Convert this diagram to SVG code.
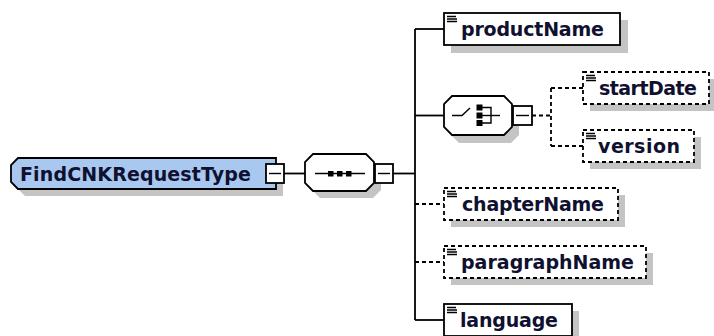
<svg xmlns="http://www.w3.org/2000/svg" width="714" height="336" viewBox="0 0 714 336">
<style>
.ln{stroke:#000;stroke-width:1.8;fill:none}
.dash{stroke-dasharray:4 3}
.box{fill:#fff;stroke:#000;stroke-width:1.8}
.dbox{fill:#fff;stroke:#000;stroke-width:1.8;stroke-dasharray:4 3}
.sh{fill:#c4c4c4}
.t{font-family:"DejaVu Sans","Liberation Sans",sans-serif;font-weight:bold;font-size:19px;fill:#101030}
.ic{stroke:#000;stroke-width:1.4}
.blk{fill:#000}
</style>
<rect width="714" height="336" fill="#fff"/>

<g id="connectors">
  <line class="ln" x1="284" y1="173.5" x2="305" y2="173.5"/>
  <line class="ln" x1="393" y1="173.5" x2="415" y2="173.5"/>
  <line class="ln" x1="415" y1="29" x2="415" y2="320"/>
  <line class="ln" x1="415" y1="29" x2="444" y2="29"/>
  <line class="ln" x1="415" y1="115.5" x2="444" y2="115.5"/>
  <line class="ln dash" x1="415" y1="204" x2="444" y2="204"/>
  <line class="ln dash" x1="415" y1="262" x2="444" y2="262"/>
  <line class="ln" x1="415" y1="320" x2="444" y2="320"/>
  <line class="ln dash" x1="532" y1="115.5" x2="551" y2="115.5"/>
  <line class="ln dash" x1="551" y1="88" x2="551" y2="146"/>
  <line class="ln dash" x1="551" y1="88" x2="583" y2="88"/>
  <line class="ln dash" x1="551" y1="146" x2="583" y2="146"/>
</g>

<g id="root">
  <path class="sh" d="M25,165 H283 V196 H25 L18,189 V172 Z"/>
  <path d="M18,158 H276 V189 H18 L11,182 V165 Z" fill="#a8c8f0" stroke="#000" stroke-width="1.8"/>
  <text class="t" x="20" y="180.5" textLength="231">FindCNKRequestType</text>
  <rect class="box" x="266" y="164" width="18" height="19"/>
  <line class="ic" x1="269" y1="173.5" x2="281" y2="173.5"/>
</g>

<g id="sequence">
  <path class="sh" d="M320,161 H373 L381,169 V190 L373,198 H320 L312,190 V169 Z"/>
  <path class="box" d="M313,154 H366 L374,162 V183 L366,191 H313 L305,183 V162 Z"/>
  <line class="ic" x1="315" y1="173.5" x2="365" y2="173.5"/>
  <rect class="blk" x="328" y="171" width="5.5" height="5.5"/>
  <rect class="blk" x="337" y="171" width="5.5" height="5.5"/>
  <rect class="blk" x="346" y="171" width="5.5" height="5.5"/>
  <rect class="box" x="375" y="164" width="18" height="19"/>
  <line class="ic" x1="378" y1="173.5" x2="390" y2="173.5"/>
</g>

<g id="choice">
  <path class="sh" d="M459,103 H511 L519,111 V135 L511,143 H459 L451,135 V111 Z"/>
  <path class="box" d="M452,96 H504 L512,104 V127 L504,135 H452 L444,127 V104 Z"/>
  <polyline class="ic" fill="none" points="452,115.5 462,115.5 470,108"/>
  <rect class="blk" x="476.5" y="104.5" width="6" height="6"/>
  <rect class="blk" x="476.5" y="112.5" width="6" height="6"/>
  <rect class="blk" x="476.5" y="120" width="6" height="6"/>
  <polyline class="ic" fill="none" points="482,107.5 491,107.5 491,123 482,123"/>
  <line class="ic" x1="482" y1="115.5" x2="500" y2="115.5"/>
  <rect class="box" x="513" y="106" width="19" height="19"/>
  <line class="ic" x1="516" y1="115.5" x2="529" y2="115.5"/>
</g>

<g id="productName">
  <rect class="sh" x="451" y="20" width="177" height="33"/>
  <rect class="box" x="444" y="13" width="176" height="32"/>
  <path class="ic" d="M447,16.5H456M447,19H457M447,21.5H457"/>
  <text class="t" x="461" y="36" textLength="143">productName</text>
</g>

<g id="startDate">
  <rect class="sh" x="590" y="79" width="126" height="32"/>
  <rect class="dbox" x="583" y="72" width="126" height="32"/>
  <path class="ic" d="M586,75.5H595M586,78H596M586,80.5H596"/>
  <text class="t" x="599" y="95" textLength="98">startDate</text>
</g>

<g id="version">
  <rect class="sh" x="590" y="137" width="111" height="32"/>
  <rect class="dbox" x="583" y="130" width="111" height="32"/>
  <path class="ic" d="M586,133.5H595M586,136H596M586,138.5H596"/>
  <text class="t" x="598" y="153" textLength="82">version</text>
</g>

<g id="chapterName">
  <rect class="sh" x="451" y="195" width="174" height="32"/>
  <rect class="dbox" x="444" y="188" width="174" height="32"/>
  <path class="ic" d="M447,191.5H456M447,194H457M447,196.5H457"/>
  <text class="t" x="462" y="211" textLength="142">chapterName</text>
</g>

<g id="paragraphName">
  <rect class="sh" x="451" y="253" width="202" height="32"/>
  <rect class="dbox" x="444" y="246" width="202" height="32"/>
  <path class="ic" d="M447,249.5H456M447,252H457M447,254.5H457"/>
  <text class="t" x="461" y="269" textLength="173">paragraphName</text>
</g>

<g id="language">
  <rect class="sh" x="451" y="311" width="128" height="32"/>
  <rect class="box" x="444" y="304" width="128" height="32"/>
  <path class="ic" d="M447,307.5H456M447,310H457M447,312.5H457"/>
  <text class="t" x="460" y="327" textLength="98">language</text>
</g>
</svg>
